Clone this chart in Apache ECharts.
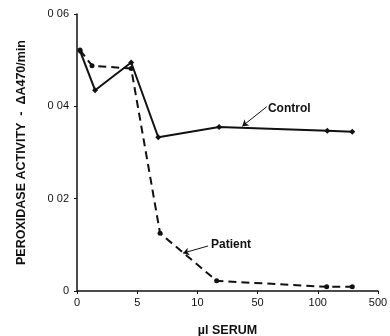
<!DOCTYPE html>
<html>
<head>
<meta charset="utf-8">
<script src="https://cdn.jsdelivr.net/npm/echarts@6/dist/echarts.min.js"></script>
<style>
  html, body { margin: 0; padding: 0; background: #fff; }
  #chart { width: 390px; height: 336px; }
</style>
</head>
<body>
<div id="chart"></div>
<script>
// Serum volume (µl) and peroxidase activity (ΔA470/min)
const controlSerum = [0.25, 1.5, 4.5, 6.75, 24.4, 163, 329];
const controlActivity = [0.052, 0.0435, 0.0495, 0.0333, 0.0355, 0.0347, 0.0345];
const patientSerum = [0.25, 1.25, 4.5, 6.9, 22.8, 159, 329];
const patientActivity = [0.0522, 0.0488, 0.0482, 0.0125, 0.0022, 0.0009, 0.0009];

// x axis breakpoints, drawn evenly spaced
const xBreaks = [0, 5, 10, 50, 100, 500];
const xTickLabels = ['0', '5', '10', '50', '100', '500'];
const yTickLabels = { '0': '0', '0.02': '0 02', '0.04': '0 04', '0.06': '0 06' };

// piecewise-linear position of a serum volume on the broken x axis
function xPos(v) {
  for (let i = 0; i < xBreaks.length - 1; i++) {
    if (v <= xBreaks[i + 1]) {
      return i + (v - xBreaks[i]) / (xBreaks[i + 1] - xBreaks[i]);
    }
  }
  return xBreaks.length - 1;
}

const pair = (xs, ys) => xs.map((x, i) => [xPos(x), ys[i]]);

const font = 'Liberation Sans, Arial, sans-serif';
const chart = echarts.init(document.getElementById('chart'));

chart.setOption({
  animation: false,
  grid: { left: 77, right: 12, top: 14, bottom: 45, outerBoundsMode: 'none', containLabel: false },
  xAxis: {
    type: 'value', min: 0, max: 5, interval: 1,
    name: 'µl SERUM', nameLocation: 'middle', nameGap: 33,
    nameTextStyle: { fontFamily: font, fontWeight: 'bold', fontSize: 12.5, color: '#111' },
    axisLine: { lineStyle: { color: '#111', width: 1.5 } },
    axisTick: { inside: false, length: 3, lineStyle: { color: '#111' } },
    splitLine: { show: false },
    axisLabel: {
      fontFamily: font, fontSize: 11, color: '#111', margin: 6,
      formatter: v => xTickLabels[Math.round(v)]
    }
  },
  yAxis: {
    type: 'value', min: 0, max: 0.06, interval: 0.02,
    name: 'PEROXIDASE ACTIVITY  -  ΔA470/min', nameLocation: 'middle', nameGap: 49,
    nameTextStyle: { fontFamily: font, fontWeight: 'bold', fontSize: 12.5, color: '#111' },
    axisLine: { show: true, lineStyle: { color: '#111', width: 1.5 } },
    axisTick: { show: true, length: 3, lineStyle: { color: '#111' } },
    splitLine: { show: false },
    axisLabel: {
      fontFamily: font, fontSize: 11, color: '#111', margin: 8,
      formatter: v => yTickLabels[String(+v.toFixed(2))] || ''
    }
  },
  series: [
    {
      name: 'Control', type: 'line',
      data: pair(controlSerum, controlActivity),
      symbol: 'diamond', symbolSize: 6,
      itemStyle: { color: '#111' },
      lineStyle: { color: '#111', width: 2 },
      markLine: {
        silent: true, symbol: ['none', 'arrow'], symbolSize: 6,
        lineStyle: { color: '#111', width: 1, type: 'solid' },
        label: { show: false },
        data: [[{ coord: [3.15, 0.0399] }, { coord: [2.746, 0.0357] }]]
      }
    },
    {
      name: 'Patient', type: 'line',
      data: pair(patientSerum, patientActivity),
      symbol: 'circle', symbolSize: 5,
      itemStyle: { color: '#111' },
      lineStyle: { color: '#111', width: 2, type: [8, 5] },
      markLine: {
        silent: true, symbol: ['none', 'arrow'], symbolSize: 6,
        lineStyle: { color: '#111', width: 1, type: 'solid' },
        label: { show: false },
        data: [[{ coord: [2.176, 0.00975] }, { coord: [1.761, 0.0082] }]]
      }
    }
  ]
});

// series names written beside their arrows
const cPt = chart.convertToPixel({ gridIndex: 0 }, [3.172, 0.0392]);
const pPt = chart.convertToPixel({ gridIndex: 0 }, [2.226, 0.00975]);
chart.setOption({
  graphic: [
    { type: 'text', left: cPt[0], top: cPt[1] - 7,
      style: { text: 'Control', font: 'bold 12px ' + font, fill: '#111' } },
    { type: 'text', left: pPt[0], top: pPt[1] - 7,
      style: { text: 'Patient', font: 'bold 12px ' + font, fill: '#111' } }
  ]
});
</script>
</body>
</html>
